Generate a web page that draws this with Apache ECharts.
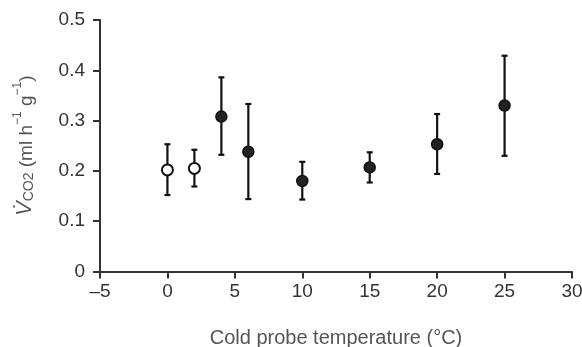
<!DOCTYPE html>
<html>
<head>
<meta charset="utf-8">
<script src="https://cdn.jsdelivr.net/npm/echarts@6/dist/echarts.min.js"></script>
<style>
  html, body { margin: 0; padding: 0; background: #fff; }
  #chart { width: 582px; height: 347px; }
</style>
</head>
<body>
<div id="chart"></div>
<script>
// temperatures (°C), mean VCO2 and error bar ends
const openTemps = [0, 2];
const openMeans = [0.202, 0.205];
const openLow = [0.152, 0.169];
const openHigh = [0.253, 0.242];

const filledTemps = [4, 6, 10, 15, 20, 25];
const filledMeans = [0.308, 0.238, 0.180, 0.207, 0.253, 0.330];
const filledLow = [0.232, 0.144, 0.143, 0.177, 0.194, 0.230];
const filledHigh = [0.386, 0.333, 0.218, 0.237, 0.313, 0.429];

const chart = echarts.init(document.getElementById("chart"));

const font = "Liberation Sans";
const axisColor = "#333";

// error bar rows: [x, low, high]
const errRows = openTemps.map((t, i) => [t, openLow[i], openHigh[i]])
  .concat(filledTemps.map((t, i) => [t, filledLow[i], filledHigh[i]]));

function renderErr(params, api) {
  const x = api.value(0);
  const lo = api.coord([x, api.value(1)]);
  const hi = api.coord([x, api.value(2)]);
  const cap = 3;
  const style = { stroke: "#111", lineWidth: 2.2 };
  return {
    type: "group",
    children: [
      { type: "line", shape: { x1: lo[0], y1: lo[1], x2: hi[0], y2: hi[1] }, style },
      { type: "line", shape: { x1: lo[0] - cap, y1: lo[1], x2: lo[0] + cap, y2: lo[1] }, style },
      { type: "line", shape: { x1: hi[0] - cap, y1: hi[1], x2: hi[0] + cap, y2: hi[1] }, style }
    ]
  };
}

const option = {
  animation: false,
  backgroundColor: "#fff",
  grid: { left: 100, right: 10, top: 20, bottom: 75.5, containLabel: false, outerBoundsMode: "none" },
  xAxis: {
    type: "value",
    min: -5,
    max: 30,
    interval: 5,
    name: "Cold probe temperature (°C)",
    nameLocation: "middle",
    nameGap: 57,
    nameTextStyle: { fontFamily: font, fontSize: 20, color: "#555" },
    axisLine: { onZero: false, lineStyle: { color: axisColor, width: 2 } },
    axisTick: { show: true, length: 7, lineStyle: { color: axisColor, width: 2 } },
    axisLabel: {
      fontFamily: font, fontSize: 19, color: "#333", margin: 11,
      formatter: v => (v < 0 ? "\u2013" + Math.abs(v) : String(v))
    },
    splitLine: { show: false }
  },
  yAxis: {
    type: "value",
    min: 0,
    max: 0.5,
    interval: 0.1,
    name: "{v|V\u0307}{sub|CO2}{t| (ml h}{sup|\u22121}{t| g}{sup|\u22121}{t|)}",
    nameLocation: "middle",
    nameRotate: 90,
    nameGap: 64,
    nameTextStyle: {
      color: "#555",
      rich: {
        v: { fontFamily: font, fontSize: 22, fontStyle: "italic", color: "#555", lineHeight: 28, verticalAlign: "bottom" },
        sub: { fontFamily: font, fontSize: 14, color: "#555", lineHeight: 28, verticalAlign: "bottom" },
        t: { fontFamily: font, fontSize: 19, color: "#555", lineHeight: 28, verticalAlign: "bottom" },
        sup: { fontFamily: font, fontSize: 12, color: "#555", lineHeight: 28, verticalAlign: "top", padding: [4, 0, 0, 0] }
      }
    },
    axisLine: { show: true, onZero: false, lineStyle: { color: axisColor, width: 2 } },
    axisTick: { show: true, length: 7, lineStyle: { color: axisColor, width: 2 } },
    axisLabel: {
      fontFamily: font, fontSize: 19, color: "#333", margin: 15,
      formatter: v => (v === 0 ? "0" : v.toFixed(1))
    },
    splitLine: { show: false }
  },
  series: [
    {
      type: "custom",
      renderItem: renderErr,
      data: errRows,
      z: 1,
      silent: true
    },
    {
      type: "scatter",
      data: openTemps.map((t, i) => [t, openMeans[i]]),
      symbol: "circle",
      symbolSize: 11,
      itemStyle: { color: "#fff", borderColor: "#111", borderWidth: 2, opacity: 1 },
      z: 3
    },
    {
      type: "scatter",
      data: filledTemps.map((t, i) => [t, filledMeans[i]]),
      symbol: "circle",
      symbolSize: 11,
      itemStyle: { color: "#222", borderColor: "#111", borderWidth: 1.5, opacity: 1 },
      z: 3
    }
  ]
};

chart.setOption(option);
</script>
</body>
</html>
